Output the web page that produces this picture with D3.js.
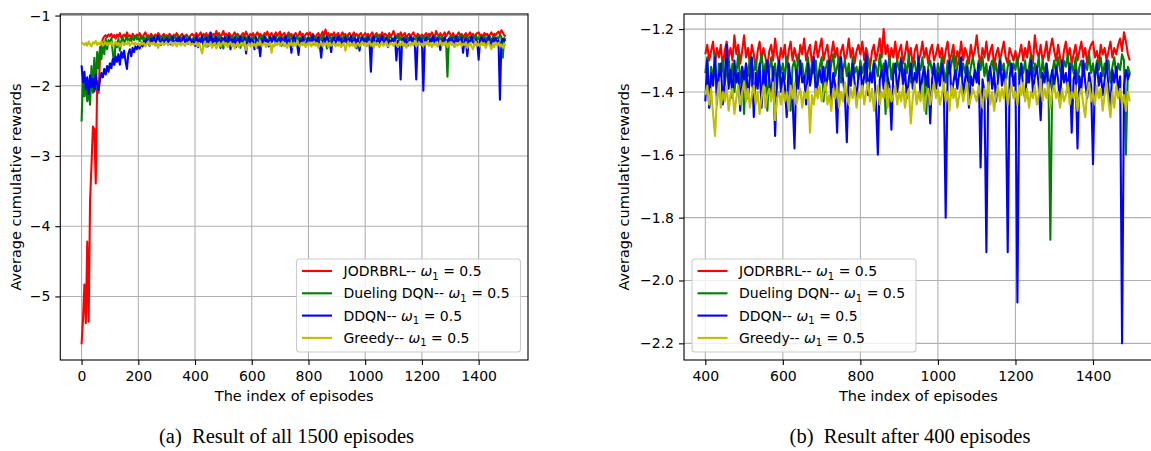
<!DOCTYPE html>
<html><head><meta charset="utf-8">
<script src="https://cdn.jsdelivr.net/npm/d3@7"></script>
<style>
html,body{margin:0;padding:0;background:#fff;}
svg{display:block;font-family:"DejaVu Sans",sans-serif;}
</style>
</head><body>
<svg id="chart" width="1151" height="451"></svg>
<script>
// episode index (sampled every 5 episodes)
const episodes = d3.range(0, 1500, 5);

const seriesNames = ["JODRBRL", "Dueling DQN", "DDQN", "Greedy"];
const seriesColors = ["#ff0000", "#008000", "#0000ff", "#bfbf00"];

const jodrbrl = [
-5.68,-5.33,-4.83,-5.38,-4.22,-5.36,-3.63,-3.13,-2.58,-2.62,-3.39,-1.94,-2.10,-1.60,-1.42,-1.33,-1.30,-1.28,-1.31,-1.27,
-1.29,-1.26,-1.31,-1.28,-1.33,-1.27,-1.30,-1.25,-1.32,-1.29,-1.27,-1.31,-1.24,-1.30,-1.28,-1.33,-1.26,-1.29,-1.31,-1.27,
-1.30,-1.25,-1.29,-1.32,-1.27,-1.24,-1.30,-1.28,-1.33,-1.26,-1.29,-1.31,-1.27,-1.30,-1.25,-1.28,-1.32,-1.29,-1.26,-1.30,
-1.28,-1.31,-1.26,-1.29,-1.33,-1.27,-1.30,-1.25,-1.29,-1.32,-1.28,-1.26,-1.31,-1.29,-1.27,-1.30,-1.33,-1.28,-1.26,-1.29,
-1.28,-1.25,-1.30,-1.27,-1.24,-1.31,-1.26,-1.29,-1.25,-1.32,-1.27,-1.24,-1.29,-1.26,-1.30,-1.22,-1.28,-1.25,-1.31,-1.27,
-1.22,-1.29,-1.26,-1.31,-1.25,-1.28,-1.33,-1.27,-1.24,-1.30,-1.26,-1.29,-1.32,-1.27,-1.25,-1.30,-1.23,-1.28,-1.31,-1.26,
-1.29,-1.25,-1.32,-1.27,-1.24,-1.30,-1.26,-1.29,-1.31,-1.25,-1.28,-1.23,-1.30,-1.27,-1.25,-1.31,-1.28,-1.24,-1.29,-1.26,
-1.23,-1.30,-1.27,-1.25,-1.31,-1.28,-1.24,-1.29,-1.26,-1.32,-1.27,-1.25,-1.30,-1.28,-1.23,-1.29,-1.26,-1.31,-1.27,-1.25,
-1.28,-1.24,-1.30,-1.26,-1.29,-1.32,-1.27,-1.25,-1.30,-1.27,-1.23,-1.29,-1.20,-1.28,-1.25,-1.31,-1.26,-1.29,-1.24,-1.30,
-1.27,-1.25,-1.31,-1.28,-1.24,-1.29,-1.26,-1.32,-1.27,-1.25,-1.30,-1.28,-1.24,-1.29,-1.26,-1.31,-1.27,-1.25,-1.30,-1.28,
-1.25,-1.29,-1.26,-1.31,-1.27,-1.24,-1.30,-1.28,-1.25,-1.32,-1.27,-1.29,-1.24,-1.30,-1.26,-1.28,-1.31,-1.25,-1.29,-1.27,
-1.22,-1.28,-1.31,-1.26,-1.29,-1.24,-1.30,-1.27,-1.25,-1.32,-1.28,-1.26,-1.30,-1.27,-1.24,-1.29,-1.31,-1.26,-1.28,-1.30,
-1.27,-1.31,-1.28,-1.25,-1.30,-1.26,-1.29,-1.24,-1.28,-1.31,-1.22,-1.27,-1.29,-1.25,-1.30,-1.28,-1.24,-1.30,-1.26,-1.23,
-1.27,-1.30,-1.25,-1.29,-1.32,-1.27,-1.24,-1.29,-1.26,-1.31,-1.28,-1.25,-1.30,-1.27,-1.24,-1.29,-1.26,-1.31,-1.27,-1.25,
-1.24,-1.29,-1.27,-1.31,-1.25,-1.28,-1.26,-1.30,-1.27,-1.24,-1.29,-1.26,-1.28,-1.25,-1.23,-1.27,-1.21,-1.24,-1.28,-1.30
];

const duelingDQN = [
-2.51,-1.87,-2.15,-1.95,-2.22,-2.05,-2.27,-1.72,-2.10,-1.60,-2.05,-1.52,-1.75,-1.45,-1.62,-1.38,-1.55,-1.33,-1.48,-1.35,
-1.40,-1.32,-1.52,-1.70,-1.38,-1.45,-1.33,-1.50,-1.36,-1.31,-1.42,-1.34,-1.30,-1.38,-1.33,-1.36,-1.31,-1.35,-1.29,-1.34,
-1.32,-1.36,-1.29,-1.34,-1.31,-1.37,-1.30,-1.33,-1.35,-1.28,-1.34,-1.31,-1.36,-1.30,-1.33,-1.29,-1.35,-1.32,-1.30,-1.34,
-1.31,-1.35,-1.29,-1.33,-1.36,-1.30,-1.32,-1.34,-1.28,-1.33,-1.36,-1.31,-1.34,-1.29,-1.32,-1.35,-1.30,-1.33,-1.37,-1.31,
-1.34,-1.29,-1.45,-1.32,-1.36,-1.28,-1.44,-1.31,-1.35,-1.30,-1.38,-1.33,-1.29,-1.36,-1.31,-1.40,-1.34,-1.28,-1.37,-1.32,
-1.47,-1.31,-1.35,-1.29,-1.38,-1.33,-1.30,-1.36,-1.32,-1.28,-1.34,-1.31,-1.46,-1.33,-1.29,-1.36,-1.31,-1.39,-1.30,-1.34,
-1.31,-1.36,-1.29,-1.33,-1.46,-1.32,-1.30,-1.35,-1.28,-1.34,-1.31,-1.37,-1.33,-1.29,-1.36,-1.31,-1.34,-1.30,-1.38,-1.32,
-1.29,-1.43,-1.33,-1.30,-1.36,-1.31,-1.28,-1.35,-1.32,-1.29,-1.37,-1.33,-1.30,-1.35,-1.31,-1.38,-1.29,-1.34,-1.32,-1.36,
-1.30,-1.34,-1.31,-1.37,-1.29,-1.33,-1.36,-1.30,-1.32,-1.35,-1.28,-1.34,-1.31,-1.47,-1.33,-1.29,-1.36,-1.31,-1.34,-1.30,
-1.33,-1.29,-1.36,-1.31,-1.34,-1.28,-1.37,-1.32,-1.30,-1.35,-1.31,-1.33,-1.29,-1.36,-1.47,-1.32,-1.30,-1.34,-1.31,-1.36,
-1.31,-1.35,-1.29,-1.33,-1.37,-1.30,-1.34,-1.31,-1.28,-1.36,-1.32,-1.29,-1.35,-1.31,-1.34,-1.30,-1.37,-1.32,-1.29,-1.33,
-1.36,-1.30,-1.33,-1.29,-1.35,-1.31,-1.38,-1.32,-1.30,-1.34,-1.31,-1.36,-1.29,-1.33,-1.31,-1.37,-1.32,-1.30,-1.35,-1.31,
-1.33,-1.29,-1.36,-1.31,-1.34,-1.30,-1.37,-1.32,-1.28,-1.35,-1.31,-1.33,-1.29,-1.36,-1.30,-1.34,-1.31,-1.35,-1.87,-1.34,
-1.30,-1.34,-1.29,-1.33,-1.36,-1.30,-1.32,-1.28,-1.35,-1.31,-1.34,-1.29,-1.37,-1.32,-1.30,-1.35,-1.31,-1.33,-1.28,-1.34,
-1.31,-1.36,-1.30,-1.33,-1.29,-1.35,-1.31,-1.34,-1.30,-1.37,-1.32,-1.29,-1.35,-1.31,-1.33,-1.28,-1.30,-1.60,-1.32,-1.34
];

const ddqn = [
-1.71,-1.95,-1.80,-2.05,-1.88,-2.12,-1.85,-2.02,-1.90,-2.08,-1.84,-1.98,-2.06,-1.92,-1.82,-1.88,-1.76,-1.84,-1.72,-1.80,
-1.68,-1.75,-1.62,-1.70,-1.58,-1.66,-1.55,-1.70,-1.52,-1.60,-1.50,-1.65,-1.76,-1.54,-1.48,-1.58,-1.46,-1.52,-1.44,-1.48,
-1.42,-1.47,-1.38,-1.44,-1.36,-1.41,-1.34,-1.39,-1.43,-1.33,-1.37,-1.31,-1.40,-1.35,-1.29,-1.36,-1.42,-1.33,-1.38,-1.35,
-1.32,-1.38,-1.34,-1.41,-1.30,-1.36,-1.39,-1.33,-1.37,-1.31,-1.42,-1.35,-1.30,-1.38,-1.34,-1.40,-1.32,-1.36,-1.39,-1.34,
-1.43,-1.30,-1.45,-1.34,-1.38,-1.29,-1.41,-1.35,-1.31,-1.44,-1.36,-1.25,-1.39,-1.33,-1.42,-1.30,-1.37,-1.34,-1.46,-1.32,
-1.36,-1.31,-1.42,-1.35,-1.29,-1.48,-1.34,-1.39,-1.31,-1.45,-1.33,-1.38,-1.30,-1.36,-1.42,-1.32,-1.54,-1.35,-1.30,-1.40,
-1.34,-1.38,-1.48,-1.31,-1.36,-1.42,-1.58,-1.33,-1.39,-1.30,-1.37,-1.35,-1.44,-1.31,-1.38,-1.34,-1.29,-1.41,-1.36,-1.33,
-1.37,-1.32,-1.40,-1.35,-1.30,-1.43,-1.34,-1.38,-1.53,-1.33,-1.29,-1.36,-1.41,-1.56,-1.34,-1.38,-1.31,-1.37,-1.42,-1.35,
-1.32,-1.39,-1.35,-1.28,-1.41,-1.34,-1.37,-1.31,-1.43,-1.60,-1.36,-1.33,-1.39,-1.30,-1.35,-1.38,-1.52,-1.34,-1.31,-1.40,
-1.35,-1.30,-1.38,-1.33,-1.42,-1.36,-1.31,-1.39,-1.34,-1.37,-1.29,-1.41,-1.35,-1.32,-1.38,-1.33,-1.50,-1.36,-1.31,-1.39,
-1.34,-1.38,-1.31,-1.36,-1.80,-1.35,-1.30,-1.41,-1.37,-1.33,-1.39,-1.34,-1.29,-1.42,-1.36,-1.32,-1.45,-1.35,-1.38,-1.33,
-1.37,-1.31,-1.64,-1.36,-1.40,-1.91,-1.35,-1.32,-1.39,-1.34,-1.43,-1.36,-1.30,-1.38,-1.33,-1.41,-1.91,-1.35,-1.31,-1.38,
-1.34,-2.07,-1.36,-1.31,-1.39,-1.42,-1.33,-1.37,-1.30,-1.40,-1.35,-1.32,-1.38,-1.49,-1.34,-1.37,-1.31,-1.41,-1.36,-1.33,
-1.38,-1.32,-1.36,-1.44,-1.30,-1.37,-1.34,-1.40,-1.31,-1.53,-1.36,-1.33,-1.58,-1.35,-1.39,-1.30,-1.37,-1.42,-1.34,-1.38,
-1.63,-1.35,-1.31,-1.38,-1.34,-1.41,-1.36,-1.30,-1.39,-1.45,-1.33,-1.37,-1.32,-1.40,-1.35,-2.20,-1.38,-1.33,-1.36,-1.34
];

const greedy = [
-1.38,-1.40,-1.42,-1.39,-1.43,-1.37,-1.41,-1.44,-1.38,-1.40,-1.36,-1.42,-1.39,-1.41,-1.37,-1.43,-1.40,-1.38,-1.42,-1.39,
-1.41,-1.38,-1.43,-1.40,-1.37,-1.42,-1.39,-1.44,-1.40,-1.38,-1.42,-1.39,-1.41,-1.37,-1.43,-1.40,-1.38,-1.42,-1.39,-1.41,
-1.40,-1.43,-1.38,-1.41,-1.39,-1.44,-1.40,-1.37,-1.42,-1.39,-1.41,-1.38,-1.43,-1.40,-1.46,-1.39,-1.41,-1.38,-1.42,-1.40,
-1.39,-1.42,-1.40,-1.37,-1.43,-1.41,-1.38,-1.44,-1.40,-1.39,-1.42,-1.38,-1.41,-1.43,-1.39,-1.40,-1.37,-1.42,-1.40,-1.41,
-1.41,-1.38,-1.44,-1.39,-1.47,-1.54,-1.42,-1.37,-1.45,-1.40,-1.43,-1.38,-1.46,-1.41,-1.39,-1.47,-1.42,-1.38,-1.44,-1.40,
-1.37,-1.43,-1.39,-1.45,-1.41,-1.38,-1.44,-1.40,-1.47,-1.42,-1.38,-1.45,-1.41,-1.39,-1.43,-1.37,-1.49,-1.42,-1.40,-1.44,
-1.39,-1.43,-1.40,-1.46,-1.38,-1.42,-1.37,-1.44,-1.41,-1.39,-1.45,-1.40,-1.42,-1.38,-1.53,-1.41,-1.44,-1.39,-1.42,-1.38,
-1.43,-1.40,-1.37,-1.44,-1.41,-1.46,-1.39,-1.42,-1.38,-1.45,-1.40,-1.43,-1.37,-1.41,-1.44,-1.39,-1.42,-1.38,-1.45,-1.40,
-1.42,-1.38,-1.44,-1.40,-1.37,-1.43,-1.39,-1.46,-1.41,-1.38,-1.44,-1.40,-1.42,-1.37,-1.45,-1.39,-1.43,-1.41,-1.38,-1.44,
-1.40,-1.43,-1.38,-1.45,-1.41,-1.39,-1.50,-1.42,-1.37,-1.44,-1.40,-1.43,-1.38,-1.46,-1.41,-1.39,-1.44,-1.40,-1.37,-1.42,
-1.39,-1.44,-1.41,-1.37,-1.43,-1.40,-1.46,-1.38,-1.42,-1.39,-1.45,-1.41,-1.38,-1.43,-1.40,-1.37,-1.44,-1.42,-1.39,-1.41,
-1.43,-1.38,-1.41,-1.45,-1.39,-1.42,-1.37,-1.44,-1.40,-1.46,-1.41,-1.38,-1.43,-1.39,-1.42,-1.36,-1.44,-1.40,-1.38,-1.42,
-1.40,-1.44,-1.38,-1.41,-1.37,-1.43,-1.39,-1.45,-1.40,-1.42,-1.38,-1.44,-1.41,-1.36,-1.43,-1.39,-1.42,-1.37,-1.45,-1.40,
-1.38,-1.42,-1.40,-1.45,-1.39,-1.43,-1.41,-1.37,-1.44,-1.40,-1.42,-1.38,-1.46,-1.41,-1.39,-1.44,-1.48,-1.40,-1.37,-1.43,
-1.40,-1.44,-1.38,-1.42,-1.39,-1.46,-1.41,-1.37,-1.43,-1.48,-1.40,-1.45,-1.38,-1.42,-1.39,-1.44,-1.41,-1.46,-1.40,-1.43
];

const xTicksA = [0, 200, 400, 600, 800, 1000, 1200, 1400];
const yTicksA = [-5, -4, -3, -2, -1];
const xTicksB = [400, 600, 800, 1000, 1200, 1400];
const yTicksB = [-2.2, -2.0, -1.8, -1.6, -1.4, -1.2];

const allSeries = [jodrbrl, duelingDQN, ddqn, greedy];

const svg = d3.select("#chart");

function panel(cfg) {
  const g = svg.append("g");
  const x = d3.scaleLinear().domain(cfg.xDomain).range([cfg.left, cfg.right]);
  const y = d3.scaleLinear().domain(cfg.yDomain).range([cfg.bottom, cfg.top]);

  const clipId = "clip" + cfg.id;
  svg.append("clipPath").attr("id", clipId).append("rect")
    .attr("x", cfg.left).attr("y", cfg.top)
    .attr("width", cfg.right - cfg.left).attr("height", cfg.bottom - cfg.top);

  // grid
  g.append("g").selectAll("line").data(cfg.xTicks).join("line")
    .attr("x1", d => x(d)).attr("x2", d => x(d))
    .attr("y1", cfg.top).attr("y2", cfg.bottom)
    .attr("stroke", "#b0b0b0").attr("stroke-width", 1.1);
  g.append("g").selectAll("line").data(cfg.yTicks).join("line")
    .attr("y1", d => y(d)).attr("y2", d => y(d))
    .attr("x1", cfg.left).attr("x2", cfg.right)
    .attr("stroke", "#b0b0b0").attr("stroke-width", 1.1);

  // lines
  const lg = g.append("g").attr("clip-path", `url(#${clipId})`);
  allSeries.forEach((vals, si) => {
    const pts = episodes.map((e, i) => [e, vals[i]]).filter(p => p[0] >= cfg.startEp && p[1] !== undefined);
    const line = d3.line().x(p => x(p[0])).y(p => y(p[1]));
    lg.append("path").datum(pts)
      .attr("d", line)
      .attr("fill", "none")
      .attr("stroke", seriesColors[si])
      .attr("stroke-width", 2.1)
      .attr("stroke-linejoin", "round");
  });

  // axes
  const ax = g.append("g").attr("transform", `translate(0,${cfg.bottom})`)
    .call(d3.axisBottom(x).tickValues(cfg.xTicks).tickFormat(d3.format("d")).tickSize(5).tickPadding(6).tickSizeOuter(0));
  const ay = g.append("g").attr("transform", `translate(${cfg.left},0)`)
    .call(d3.axisLeft(y).tickValues(cfg.yTicks).tickFormat(d3.format(cfg.yFormat)).tickSize(5).tickPadding(5).tickSizeOuter(0));
  [ax, ay].forEach(a => {
    a.select(".domain").remove();
    a.selectAll(".tick line").attr("stroke", "#000").attr("stroke-width", 1.1);
    a.selectAll(".tick text").attr("fill", "#000").style("font-size", "14px")
      .style("font-family", "'DejaVu Sans', sans-serif");
  });

  // spines
  g.append("rect").attr("x", cfg.left).attr("y", cfg.top)
    .attr("width", cfg.right - cfg.left).attr("height", cfg.bottom - cfg.top)
    .attr("fill", "none").attr("stroke", "#000").attr("stroke-width", 1.1);

  // axis titles
  g.append("text").attr("x", (cfg.left + cfg.right) / 2).attr("y", cfg.xTitleY)
    .attr("text-anchor", "middle").style("font-size", "14.5px").text("The index of episodes");
  g.append("text").attr("transform", `translate(${cfg.yTitleX},${(cfg.top + cfg.bottom) / 2}) rotate(-90)`)
    .attr("text-anchor", "middle").style("font-size", "14.5px").text("Average cumulative rewards");

  // legend
  const leg = g.append("g").attr("transform", `translate(${cfg.legX},${cfg.legY})`);
  leg.append("rect").attr("width", 224).attr("height", 93).attr("rx", 3)
    .attr("fill", "#fff").attr("fill-opacity", 0.8).attr("stroke", "#cccccc").attr("stroke-width", 1.1);
  seriesNames.forEach((name, i) => {
    const cy = 12 + i * 22.3;
    leg.append("line").attr("x1", 5.5).attr("x2", 35.5).attr("y1", cy).attr("y2", cy)
      .attr("stroke", seriesColors[i]).attr("stroke-width", 2.1);
    const t = leg.append("text").attr("x", 47).attr("y", cy + 5).style("font-size", "14px");
    t.append("tspan").text(name + "-- ");
    t.append("tspan").style("font-style", "italic").text("ω");
    t.append("tspan").attr("dy", 3.5).style("font-size", "10px").text("1");
    t.append("tspan").attr("dy", -3.5).text(" = 0.5");
  });

  // caption
  svg.append("text").attr("x", cfg.capX).attr("y", 442.5)
    .attr("text-anchor", "middle")
    .style("font-family", "'Liberation Serif', 'Times New Roman', serif")
    .style("font-size", "20.5px")
    .text(cfg.caption);
}

panel({
  id: "a", left: 60.3, right: 528, top: 14, bottom: 360,
  xDomain: [-75, 1574], yDomain: [-5.905, -0.978],
  xTicks: xTicksA, yTicks: yTicksA, yFormat: "d", startEp: 0,
  xTitleY: 400.5, yTitleX: 20.5,
  legX: 296.5, legY: 259,
  capX: 286.5, caption: "(a)\u2002Result of all 1500 episodes"
});

panel({
  id: "b", left: 684, right: 1152.7, top: 14, bottom: 360,
  xDomain: [345, 1554], yDomain: [-2.253, -1.152],
  xTicks: xTicksB, yTicks: yTicksB, yFormat: ".1f", startEp: 400,
  xTitleY: 400.5, yTitleX: 629,
  legX: 692, legY: 259,
  capX: 910, caption: "(b)\u2002Result after 400 episodes"
});
</script>
</body></html>
